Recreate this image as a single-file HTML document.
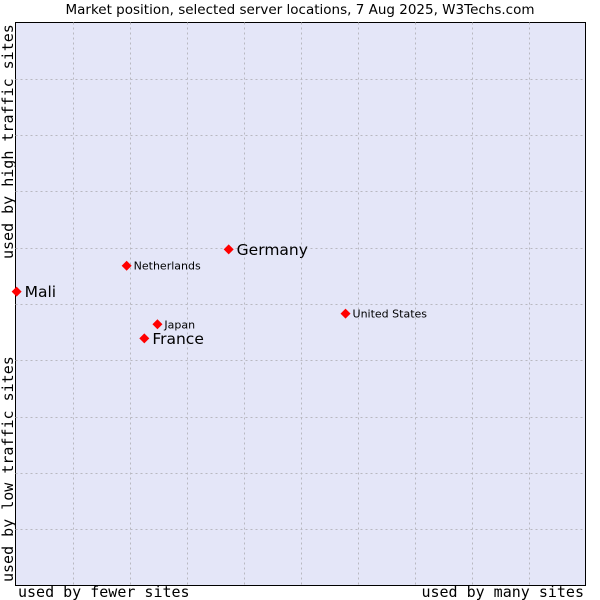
<!DOCTYPE html>
<html><head><meta charset="utf-8"><style>body{margin:0;background:#fff}svg{display:block}</style></head>
<body>
<svg id="chart" width="600" height="600" xmlns="http://www.w3.org/2000/svg">
<text x="300" y="14" text-anchor="middle" font-family="DejaVu Sans, sans-serif" font-size="13.5">Market position, selected server locations, 7 Aug 2025, W3Techs.com</text>
<rect x="15.5" y="22.5" width="570" height="563" fill="#e4e6f8" stroke="#000" stroke-width="1"/>
<g id="grid"></g>
<text x="18" y="597" font-family="DejaVu Sans Mono, monospace" font-size="15">used by fewer sites</text>
<text x="584" y="597" text-anchor="end" font-family="DejaVu Sans Mono, monospace" font-size="15">used by many sites</text>
<text transform="translate(13,259) rotate(-90)" font-family="DejaVu Sans Mono, monospace" font-size="15">used by high traffic sites</text>
<text transform="translate(13,582) rotate(-90)" font-family="DejaVu Sans Mono, monospace" font-size="15">used by low traffic sites</text>
<g id="points"></g>
</svg>
<script>
const names = ["Mali","Netherlands","Germany","Japan","France","United States"];
const xValues = [0.02,1.95,3.74,2.49,2.26,5.79];
const yValues = [5.22,5.68,5.97,4.64,4.39,4.83];
const bigLabel = [true,false,true,false,true,false];
const NS="http://www.w3.org/2000/svg";
const x0=15.5,x1=585.5,y0=585.5,y1=22.5;
const xs=v=>x0+(x1-x0)*v/10, ys=v=>y0-(y0-y1)*v/10;
const grid=document.getElementById('grid');
for(let i=1;i<10;i++){
  const v=document.createElementNS(NS,'line');
  
  
  const gx=Math.round(xs(i))+0.5;
  v.setAttribute('x1',gx);v.setAttribute('x2',gx);v.setAttribute('y1',y1);v.setAttribute('y2',y0);
  v.setAttribute('stroke','#b8b8c0');v.setAttribute('stroke-dasharray','2,3');
  grid.appendChild(v);
  const h=document.createElementNS(NS,'line');
  
  
  const gy=Math.round(ys(i))+0.5;
  h.setAttribute('x1',x0);h.setAttribute('x2',x1);h.setAttribute('y1',gy);h.setAttribute('y2',gy);
  h.setAttribute('stroke','#b8b8c0');h.setAttribute('stroke-dasharray','2,3');
  grid.appendChild(h);
}
const pts=document.getElementById('points');
names.forEach((n,i)=>{
  const px=xs(xValues[i]),py=ys(yValues[i]);
  const d=document.createElementNS(NS,'path');
  
  
  d.setAttribute('d',`M${px},${py-5}L${px+5},${py}L${px},${py+5}L${px-5},${py}Z`);
  d.setAttribute('fill','#f00');
  pts.appendChild(d);
  const t=document.createElementNS(NS,'text');
  
  
  t.setAttribute('x',px+(bigLabel[i]?8:7));
  t.setAttribute('y',py+(bigLabel[i]?5.5:4));
  t.setAttribute('font-family','DejaVu Sans, sans-serif');
  t.setAttribute('font-size',bigLabel[i]?'15.5':'11');
  t.textContent=n;
  pts.appendChild(t);
});
</script>
</body></html>
